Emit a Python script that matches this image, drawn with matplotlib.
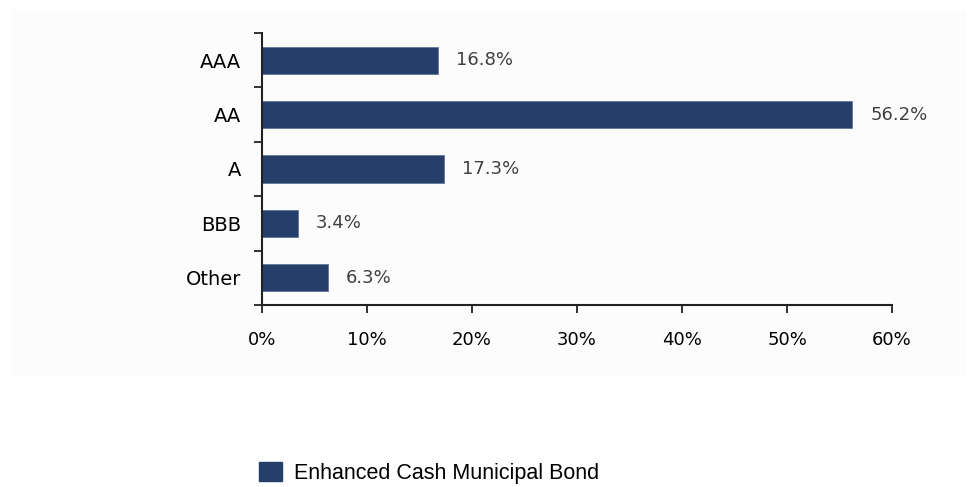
import numpy as np
import matplotlib
matplotlib.use("Agg")
import matplotlib.pyplot as plt
from matplotlib.patches import Patch, Rectangle
from matplotlib.ticker import FuncFormatter

categories = ["AAA", "AA", "A", "BBB", "Other"]
values = [16.8, 56.2, 17.3, 3.4, 6.3]
series_name = "Enhanced Cash Municipal Bond"
bar_color = "#263F6A"

fig = plt.figure(figsize=(9.8, 4.87), dpi=100)
# faint light panel behind the chart
fig.patches.append(Rectangle((12/980, 1-375/487), 953/980, 365/487,
                             transform=fig.transFigure, color="#fcfcfc", zorder=-5))
ax = fig.add_axes([262/980, 1-305/487, 630/980, 272/487])
ax.set_zorder(2)
ax.set_facecolor("none")

y = np.arange(len(categories))
ax.barh(y, values, height=0.5, color=bar_color, edgecolor="#5a6f94", linewidth=0.5)
for yi, v in zip(y, values):
    ax.annotate(f"{v:.1f}%", (v, yi), xytext=(13, 0), textcoords="offset points",
                va="center", ha="left", fontsize=13, color="#404040")

ax.set_ylim(len(categories) - 0.5, -0.5)
ax.set_xlim(0, 60)
ax.set_xticks(np.arange(0, 61, 10))
ax.xaxis.set_major_formatter(FuncFormatter(lambda x, p: f"{x:.0f}%"))
ax.set_yticks(y)
ax.set_yticklabels(categories)
ax.set_yticks(np.arange(-0.5, len(categories)), minor=True)

ax.tick_params(axis="y", which="major", length=0, pad=15, labelsize=14)
ax.tick_params(axis="y", which="minor", length=6, width=1.3, color="#222222")
ax.tick_params(axis="x", length=6, width=1.3, color="#222222", pad=13, labelsize=13)

for s in ["top", "right"]:
    ax.spines[s].set_visible(False)
for s in ["left", "bottom"]:
    ax.spines[s].set_linewidth(1.5)
    ax.spines[s].set_color("#222222")

fig.legend(handles=[Patch(color=bar_color, label=series_name)],
           loc="center left", bbox_to_anchor=(250/980, 1-473/487),
           frameon=False, handlelength=1.1, handleheight=1.0,
           handletextpad=0.55, borderaxespad=0, borderpad=0.4,
           prop={"family": "Liberation Sans", "size": 15.5})

fig.savefig("out.png", dpi=100)
